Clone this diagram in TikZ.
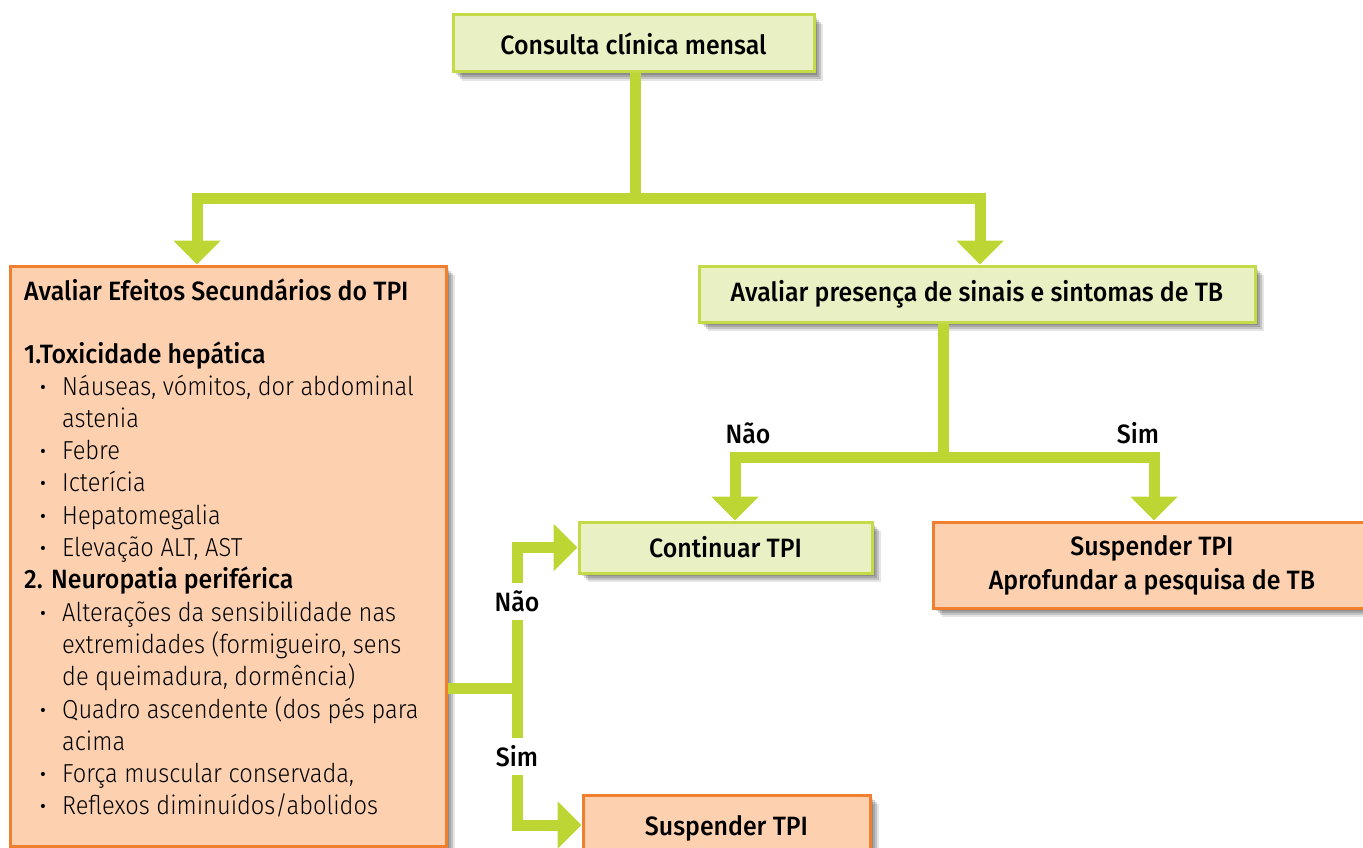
\documentclass[tikz,border=0pt]{standalone}
\usepackage{fontspec}
\setmainfont{Fira Sans Medium}[FakeStretch=0.94]
\newfontfamily\lightf{Fira Sans Light}[FakeStretch=0.91]
\usetikzlibrary{arrows.meta}
\definecolor{lgreen}{RGB}{189,214,51}
\definecolor{gfill}{RGB}{233,240,196}
\definecolor{gborder}{RGB}{196,218,70}
\definecolor{ofill}{RGB}{253,209,176}
\definecolor{oborder}{RGB}{240,128,47}
\tikzset{
  shad/.style={
    preaction={fill=black,opacity=0.15,transform canvas={xshift=3pt,yshift=-3pt}},
    preaction={fill=black,opacity=0.15,transform canvas={xshift=5pt,yshift=-5pt}},
    preaction={fill=black,opacity=0.15,transform canvas={xshift=7pt,yshift=-7pt}},
    preaction={fill=black,opacity=0.1,transform canvas={xshift=9pt,yshift=-9pt}}},
  gbox/.style={shad,draw=gborder,line width=3pt,fill=gfill,inner sep=0pt,
    font=\fontsize{26.5}{30}\selectfont,text=black},
  obox/.style={shad,draw=oborder,line width=3pt,fill=ofill,inner sep=0pt,
    font=\fontsize{26.5}{30}\selectfont,text=black,align=center},
  conn/.style={draw=lgreen,line width=11pt},
  arr/.style={conn,-{Triangle[width=46pt,length=24pt]}},
  lbl/.style={font=\fontsize{26.5}{30}\selectfont,inner sep=0pt,text=black},
  hd/.style={anchor=base west,inner sep=0pt,font=\fontsize{26.5}{30}\selectfont,text=black},
  itm/.style={anchor=base west,inner sep=0pt,font=\lightf\fontsize{26}{30}\selectfont,text=black},
  bul/.style={anchor=base,inner sep=0pt,font=\fontsize{26}{30}\selectfont,text=black}
}
\begin{document}
\begin{tikzpicture}[x=1pt,y=-1pt]
\useasboundingbox (0,0) rectangle (1363,848);
% boxes
\node[gbox,minimum width=361pt,minimum height=57pt] (top) at (633.5,43.5) {Consulta clínica mensal};
\node[gbox,minimum width=556pt,minimum height=56pt] (aval) at (977,294) {Avaliar presença de sinais e sintomas de TB};
\node[obox,minimum width=436pt,minimum height=580pt] (left) at (228,556) {};
\node[gbox,minimum width=293pt,minimum height=51pt] (cont) at (725.5,547.5) {Continuar TPI};
\node[obox,minimum width=438pt,minimum height=86pt] (susp1) at (1152,565) {Suspender TPI\\[4pt]Aprofundar a pesquisa de TB};
\node[obox,minimum width=287pt,minimum height=60pt] (susp2) at (726.5,825) {};
\node[lbl] (susp2t) at (726.5,828) {Suspender TPI};
% left box text
\node[hd] (h0) at (24,300) {Avaliar Efeitos Secundários do TPI};
\node[hd] (h1) at (24,363) {1.Toxicidade hepática};
\node[bul] (b1) at (43,395) {·};
\node[itm] (i1) at (62,395) {Náuseas, vómitos, dor abdominal};
\node[itm] (i2) at (62,427.3) {astenia};
\node[bul] (b3) at (43,459.6) {·};
\node[itm] (i3) at (62,459.6) {Febre};
\node[bul] (b4) at (43,491.9) {·};
\node[itm] (i4) at (62,491.9) {Icterícia};
\node[bul] (b5) at (43,524.2) {·};
\node[itm] (i5) at (62,524.2) {Hepatomegalia};
\node[bul] (b6) at (43,556.5) {·};
\node[itm] (i6) at (62,556.5) {Elevação ALT, AST};
\node[hd] (h2) at (24,588.8) {2. Neuropatia periférica};
\node[bul] (b7) at (43,621.1) {·};
\node[itm] (i7) at (62,621.1) {Alterações da sensibilidade nas};
\node[itm] (i8) at (62,653.4) {extremidades (formigueiro, sens};
\node[itm] (i9) at (62,685.7) {de queimadura, dormência)};
\node[bul] (b10) at (43,718) {·};
\node[itm] (i10) at (62,718) {Quadro ascendente (dos pés para};
\node[itm] (i11) at (62,750.3) {acima};
\node[bul] (b12) at (43,782.6) {·};
\node[itm] (i12) at (62,782.6) {Força muscular conservada,};
\node[bul] (b13) at (43,814.9) {·};
\node[itm] (i13) at (62,814.9) {Reflexos diminuídos/abolidos};
% labels
\node[lbl] (nao1) at (748,433) {Não};
\node[lbl] (sim1) at (1138,433) {Sim};
\node[lbl,minimum height=37pt] (nao2) at (517,601.5) {Não};
\node[lbl,minimum height=37pt] (sim2) at (517,756.5) {Sim};
% connectors
\coordinate (j1) at (635,198);
\coordinate (j3) at (943,457);
\coordinate (j2) at (517,688);
\draw[conn] ([xshift=1.5pt]top.south) -- (j1);
\draw[arr] (j1) -| ([xshift=-31pt]left.north);
\draw[arr] (j1) -| ([xshift=3pt]aval.north);
\draw[conn] ([xshift=-34pt]aval.south) -- (j3);
\draw[arr] (j3) -| ([xshift=9.5pt]cont.north);
\draw[arr] (j3) -| ([xshift=2pt]susp1.north);
\draw[conn] ([yshift=-132pt]left.east) -- (j2);
\draw[conn] (j2) -- (nao2.south);
\draw[conn] (j2) -- (sim2.north);
\draw[arr] (nao2.north) |- (cont.west);
\draw[arr] (sim2.south) |- (susp2.west);
\end{tikzpicture}
\end{document}
